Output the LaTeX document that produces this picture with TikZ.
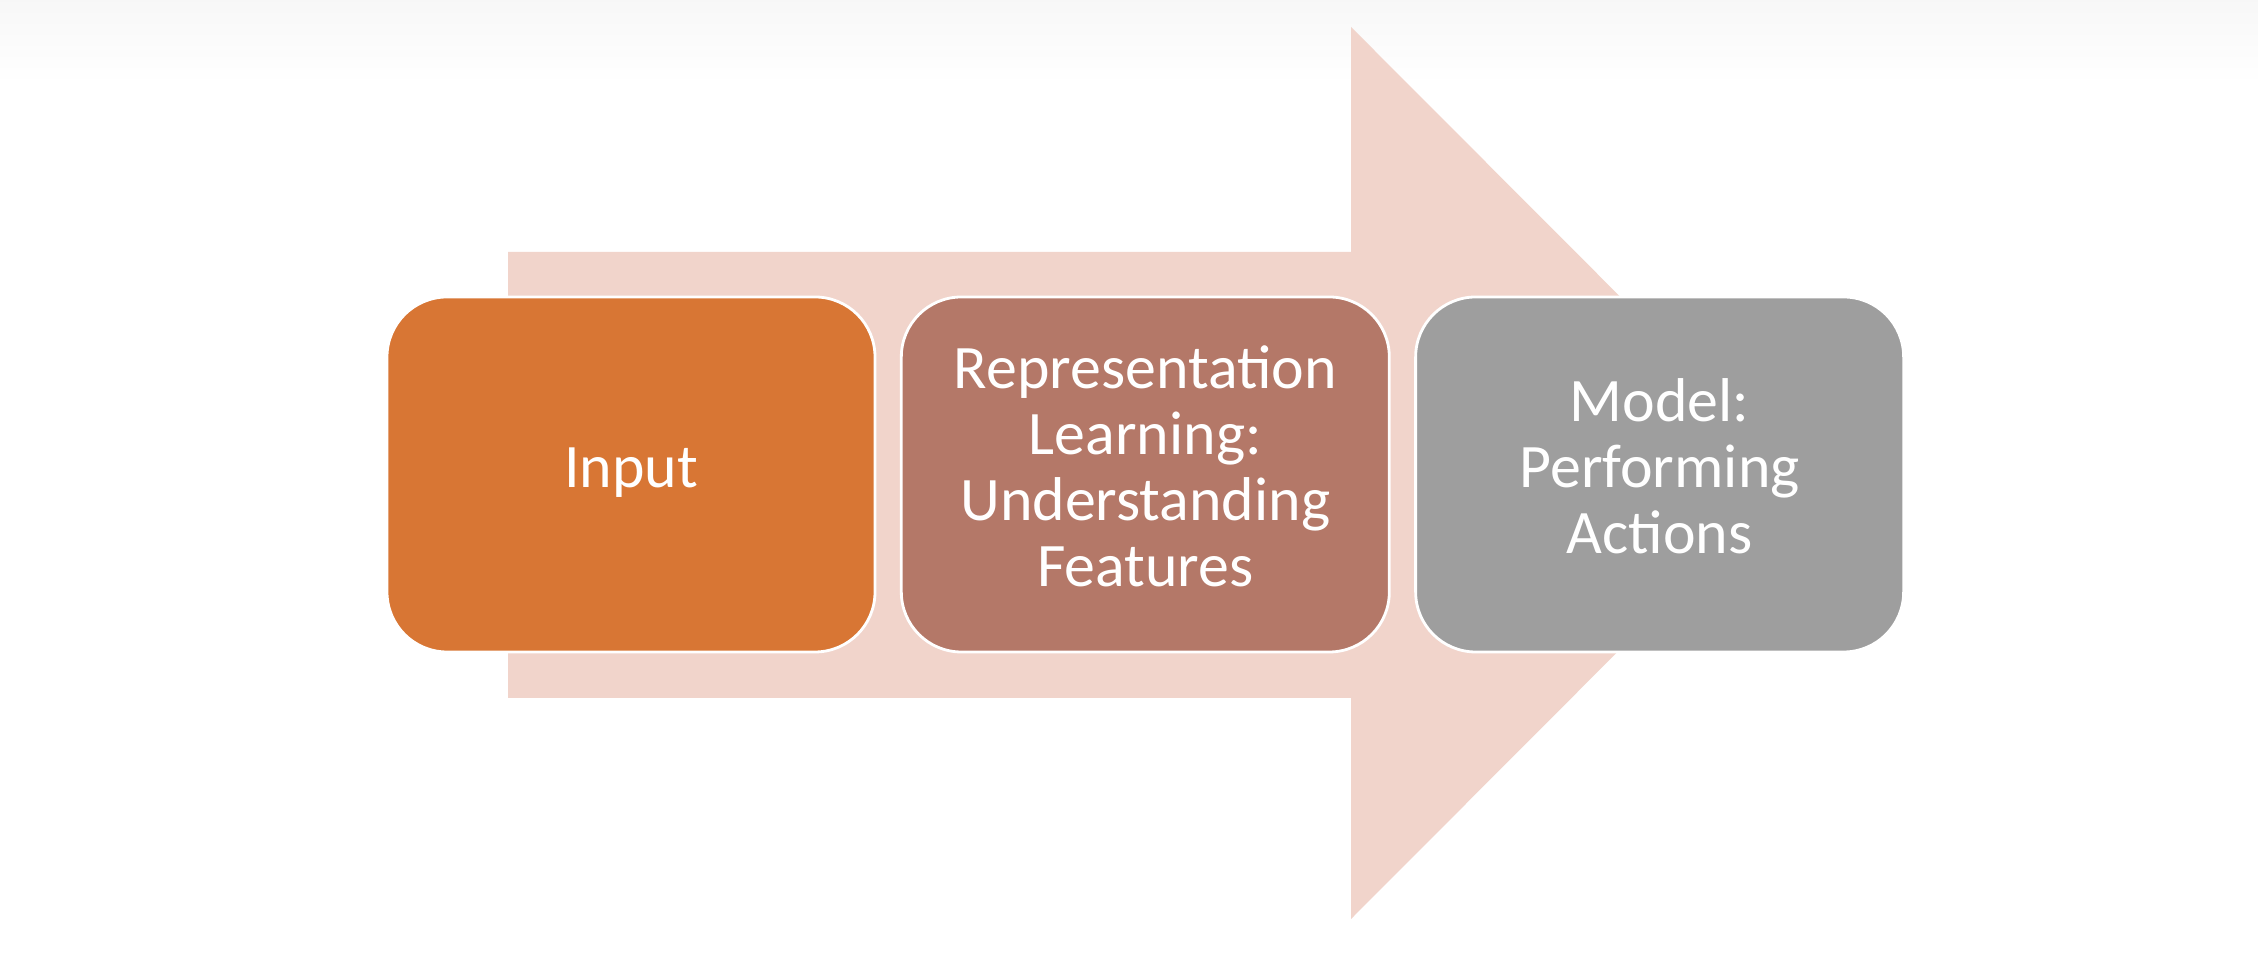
\documentclass[tikz,border=0pt]{standalone}
\usepackage{fontspec}
\setmainfont{Carlito}
\usepackage{tikz}
\usetikzlibrary{positioning}

\definecolor{arrowpink}{HTML}{F1D4CB}
\definecolor{inputorange}{HTML}{D87634}
\definecolor{featbrown}{HTML}{B47868}
\definecolor{modelgray}{HTML}{9E9E9E}

\begin{document}
\begin{tikzpicture}
    \fill [white] (0, 0) rectangle (22.58, 9.54);
    \useasboundingbox (0, 0) rectangle (22.58, 9.54);
    \shade [top color=black!3, bottom color=white] (0, 8.7) rectangle (22.58, 9.54);

    \fill [arrowpink] (5.08, 2.56) -- (13.51, 2.56) -- (13.51, 0.35) -- (17.96, 4.81) -- (13.51, 9.27) -- (13.51, 7.02) -- (5.08, 7.02) -- cycle;

    \node (input) at (6.31, 4.795) [draw=white, thick, fill=inputorange, rounded corners=0.6cm, minimum width=4.88cm, minimum height=3.55cm, text=white, font=\fontsize{17.6}{18.8}\selectfont] {\begin{tabular}{c} Input \end{tabular}};

    \node (features) [draw=white, thick, fill=featbrown, rounded corners=0.6cm, right=0.235cm of input, minimum width=4.88cm, minimum height=3.55cm, text=white, font=\fontsize{17.6}{18.8}\selectfont] {\begin{tabular}{c} Representation \\ Learning: \\ Understanding \\ Features \end{tabular}};

    \node (model) [draw=white, thick, fill=modelgray, rounded corners=0.6cm, right=0.235cm of features, minimum width=4.88cm, minimum height=3.55cm, text=white, font=\fontsize{17.6}{18.8}\selectfont] {\begin{tabular}{c} Model: \\ Performing \\ Actions \end{tabular}};
\end{tikzpicture}
\end{document}
